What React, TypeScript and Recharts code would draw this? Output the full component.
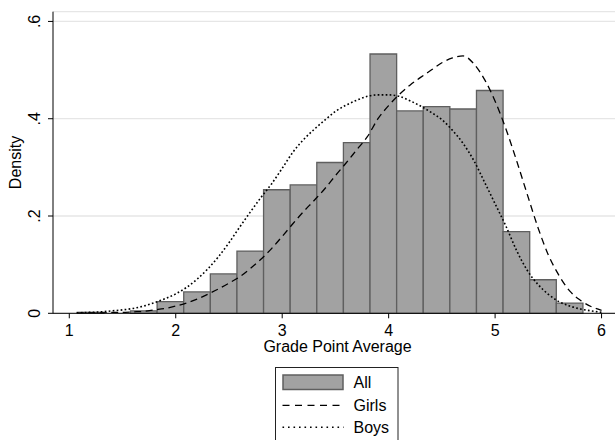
import React from 'react';
import { ComposedChart, Line, XAxis, YAxis, CartesianGrid, ReferenceArea } from 'recharts';

// Histogram bins (GPA) and density of all students
const binLower = [1.075, 1.575, 1.825, 2.075, 2.325, 2.575, 2.825, 3.075, 3.325, 3.575, 3.825, 4.075, 4.325, 4.575, 4.825, 5.075, 5.325, 5.575];
const binUpper = [1.325, 1.825, 2.075, 2.325, 2.575, 2.825, 3.075, 3.325, 3.575, 3.825, 4.075, 4.325, 4.575, 4.825, 5.075, 5.325, 5.575, 5.825];
const allDensity = [0.002, 0.005, 0.024, 0.044, 0.081, 0.128, 0.254, 0.264, 0.31, 0.351, 0.533, 0.416, 0.425, 0.42, 0.458, 0.168, 0.069, 0.021];

// Kernel density curves
const gpaGrid = [1.07, 1.2, 1.3, 1.4, 1.5, 1.6, 1.7, 1.8, 1.9, 2.0, 2.1, 2.2, 2.3, 2.4, 2.5, 2.6, 2.7, 2.8, 2.9, 3.0, 3.1, 3.2, 3.3, 3.4, 3.5, 3.6, 3.7, 3.8, 3.9, 4.0, 4.1, 4.2, 4.3, 4.4, 4.5, 4.6, 4.7, 4.8, 4.9, 5.0, 5.1, 5.2, 5.3, 5.4, 5.5, 5.6, 5.7, 5.8, 5.9, 6.0];
const girlsDensity = [0.0, 0.001, 0.001, 0.002, 0.002, 0.003, 0.004, 0.007, 0.01, 0.015, 0.021, 0.029, 0.039, 0.05, 0.062, 0.075, 0.092, 0.111, 0.133, 0.158, 0.184, 0.209, 0.232, 0.256, 0.283, 0.309, 0.336, 0.363, 0.4, 0.427, 0.45, 0.469, 0.485, 0.5, 0.515, 0.525, 0.529, 0.513, 0.481, 0.436, 0.38, 0.315, 0.246, 0.178, 0.12, 0.078, 0.046, 0.027, 0.014, 0.006];
const boysDensity = [0.001, 0.002, 0.003, 0.005, 0.007, 0.01, 0.015, 0.022, 0.03, 0.04, 0.053, 0.07, 0.091, 0.116, 0.145, 0.177, 0.208, 0.238, 0.266, 0.298, 0.331, 0.357, 0.378, 0.397, 0.415, 0.428, 0.438, 0.446, 0.449, 0.449, 0.446, 0.437, 0.426, 0.413, 0.398, 0.376, 0.349, 0.314, 0.27, 0.225, 0.18, 0.13, 0.089, 0.06, 0.039, 0.024, 0.015, 0.009, 0.005, 0.002];

const xTicks = [1, 2, 3, 4, 5, 6];
const yTicks = [0, 0.2, 0.4, 0.6];
const yTickLabels = ['0', '.2', '.4', '.6'];

const curveData = gpaGrid.map((x, i) => ({ x, girls: girlsDensity[i], boys: boysDensity[i] }));

const FONT = '"Liberation Sans", Arial, Helvetica, sans-serif';
const BAR_FILL = '#a2a2a2';
const BAR_STROKE = '#5f5f5f';
const GIRLS_DASH = '7 4.5';
const BOYS_DASH = '1.7 2.3';

const XTick = (props: any) => {
  const { x, y, payload } = props;
  return (
    <text x={x} y={y + 15.2} textAnchor="middle" fontSize={16} fontFamily={FONT} fill="#000">
      {payload.value}
    </text>
  );
};

const YTick = (props: any) => {
  const { x, y, payload } = props;
  const idx = yTicks.indexOf(payload.value);
  const label = idx >= 0 ? yTickLabels[idx] : String(payload.value);
  const tx = x - 6;
  return (
    <text x={tx} y={y} transform={`rotate(-90, ${tx}, ${y})`} textAnchor="middle" fontSize={16} fontFamily={FONT} fill="#000">
      {label}
    </text>
  );
};

const Legend = () => (
  <svg width={124} height={80} style={{ position: 'absolute', left: 275, top: 366.5, overflow: 'visible' }}>
    <rect x={0.5} y={0.5} width={122.5} height={78} fill="#fff" stroke="#222" strokeWidth={1} />
    <rect x={8} y={8} width={60} height={14.5} fill={BAR_FILL} stroke={BAR_STROKE} strokeWidth={1.5} />
    <text x={78.5} y={20.8} fontSize={16} fontFamily={FONT} fill="#000">All</text>
    <line x1={7.5} x2={68.5} y1={38.3} y2={38.3} stroke="#000" strokeWidth={1.2} strokeDasharray="7 5.5" />
    <text x={78.5} y={44} fontSize={16} fontFamily={FONT} fill="#000">Girls</text>
    <line x1={7.5} x2={68.5} y1={60.3} y2={60.3} stroke="#000" strokeWidth={1.4} strokeDasharray="1.6 3.9" />
    <text x={78.5} y={66} fontSize={16} fontFamily={FONT} fill="#000">Boys</text>
  </svg>
);

export default function App() {
  return (
    <div style={{ position: 'absolute', left: 0, top: 0, width: 615, height: 440, overflow: 'hidden', background: '#fff', fontFamily: FONT }}>
      <ComposedChart width={622} height={440} data={curveData} margin={{ top: 11.7, right: 0, bottom: 86.7, left: 0 }}>
        <CartesianGrid vertical={false} stroke="#e6e6e6" strokeWidth={1.3} />
        <XAxis
          type="number"
          dataKey="x"
          domain={[0.847, 6.192]}
          ticks={xTicks}
          allowDataOverflow
          height={40}
          tickSize={5}
          tickMargin={2}
          axisLine={{ stroke: '#000', strokeWidth: 1 }}
          tickLine={{ stroke: '#000', strokeWidth: 1 }}
          tick={<XTick />}
          label={{ value: 'Grade Point Average', position: 'insideBottom', offset: 1.6, fontSize: 16, fill: '#000', fontFamily: FONT }}
        />
        <YAxis
          type="number"
          domain={[0, 0.62]}
          ticks={yTicks}
          allowDataOverflow
          width={53}
          tickSize={5}
          tickMargin={2}
          axisLine={{ stroke: '#000', strokeWidth: 1 }}
          tickLine={{ stroke: '#000', strokeWidth: 1 }}
          tick={<YTick />}
          label={{ value: 'Density', angle: -90, position: 'insideLeft', offset: 15.7, fontSize: 16, fill: '#000', fontFamily: FONT, style: { textAnchor: 'middle' } }}
        />
        {binLower.map((lo, i) => (
          <ReferenceArea
            key={`bin-${i}`}
            x1={lo}
            x2={binUpper[i]}
            y1={0}
            y2={allDensity[i]}
            fill={BAR_FILL}
            fillOpacity={1}
            stroke={BAR_STROKE}
            strokeWidth={1.3}
            ifOverflow="visible"
          />
        ))}
        <Line type="monotone" dataKey="girls" stroke="#000" strokeWidth={1.3} strokeDasharray={GIRLS_DASH} dot={false} isAnimationActive={false} />
        <Line type="monotone" dataKey="boys" stroke="#000" strokeWidth={1.6} strokeDasharray={BOYS_DASH} dot={false} isAnimationActive={false} />
      </ComposedChart>
      <Legend />
    </div>
  );
}
